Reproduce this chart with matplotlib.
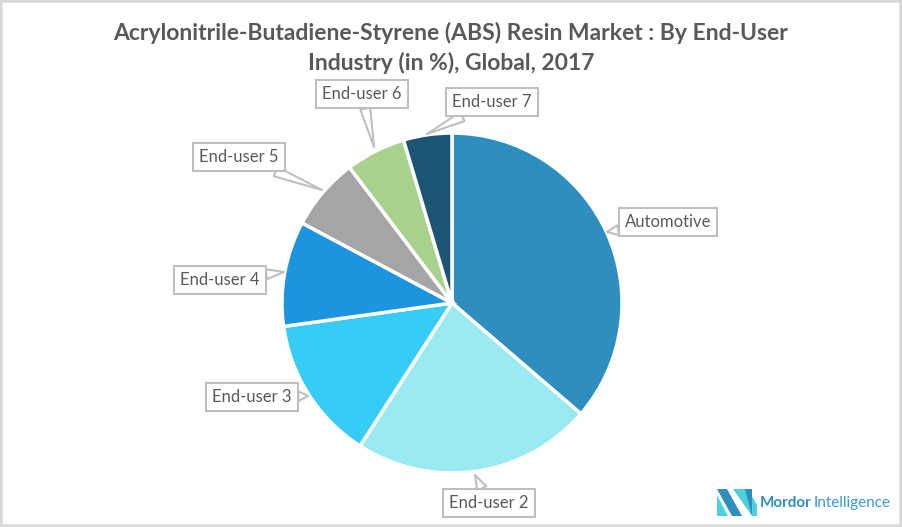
import matplotlib.pyplot as plt
from matplotlib.patches import Rectangle, Polygon

labels = ['Automotive', 'End-user 2', 'End-user 3', 'End-user 4',
          'End-user 5', 'End-user 6', 'End-user 7']
shares = [36.3, 22.8, 13.7, 10.0, 6.9, 5.7, 4.6]
colors = ['#2E8EC0', '#99EBF1', '#36CCF5', '#1C94E0',
          '#A5A5A5', '#A9D18E', '#1D5574']

# callout box centres and pointer tips (pixel coords, y from top)
box_pos = [(668, 222), (489, 503), (252, 397), (220, 280),
           (239, 157), (362, 94), (492, 102)]
tip_pos = [(607, 232), (475, 475), (308, 396), (284, 272),
           (322, 190), (374, 147), (427, 134)]

W, H = 902, 527
plt.rcParams['font.family'] = ['Lato', 'DejaVu Sans']

fig = plt.figure(figsize=(W / 100, H / 100), dpi=100)
ax = fig.add_axes([0, 0, 1, 1])

ax.pie(shares, colors=colors, startangle=90, counterclock=False,
       center=(452, H - 303), radius=170, frame=True,
       wedgeprops=dict(edgecolor='white', linewidth=2.5))
ax.set_xlim(0, W)
ax.set_ylim(0, H)
ax.set_aspect('equal')
ax.axis('off')

for lab, (bx, by), (tx, ty) in zip(labels, box_pos, tip_pos):
    ax.annotate(lab, xy=(tx, H - ty), xytext=(bx, H - by),
                ha='center', va='center', fontsize=12, color='#595959',
                bbox=dict(boxstyle='square,pad=0.35', fc='white',
                          ec='#BFBFBF', lw=1.5),
                arrowprops=dict(arrowstyle='wedge,tail_width=0.6',
                                fc='white', ec='#BFBFBF', lw=1.5,
                                shrinkA=0, shrinkB=0))

fig.text(0.5, 1 - 33 / H, 'Acrylonitrile-Butadiene-Styrene (ABS) Resin Market : By End-User',
         ha='center', va='center', fontsize=16.5, fontweight='bold', color='#595959')
fig.text(0.5, 1 - 63 / H, 'Industry (in %), Global, 2017',
         ha='center', va='center', fontsize=16.5, fontweight='bold', color='#595959')

# logo
ax.add_patch(Polygon([(717, H - 489), (727, H - 489), (742, H - 516), (732, H - 516)],
                     closed=True, fc='#2E8EC0', ec='none'))
ax.add_patch(Polygon([(717, H - 495), (717, H - 516), (728, H - 516)],
                     closed=True, fc='#4FD1D9', ec='none'))
ax.add_patch(Polygon([(733, H - 489), (748, H - 489), (757, H - 505), (757, H - 516), (752, H - 516)],
                     closed=True, fc='#4FD1D9', ec='none'))
ax.add_patch(Polygon([(745, H - 489), (752, H - 489), (752, H - 516)],
                     closed=True, fc='#2E8EC0', ec='none'))
t1 = ax.text(760, H - 503, 'Mordor', ha='left', va='center', fontsize=11,
             fontweight='bold', color='#2E8EC0')
fig.canvas.draw()
x_end = t1.get_window_extent().x1
ax.text(x_end + 2, H - 503, 'Intelligence', ha='left', va='center', fontsize=11,
        color='#3A9AD0')

fig.patches.append(Rectangle((0, 0), 1, 1, transform=fig.transFigure,
                             fill=False, ec='#D9D9D9', lw=4))

fig.savefig('out.png', dpi=100)
